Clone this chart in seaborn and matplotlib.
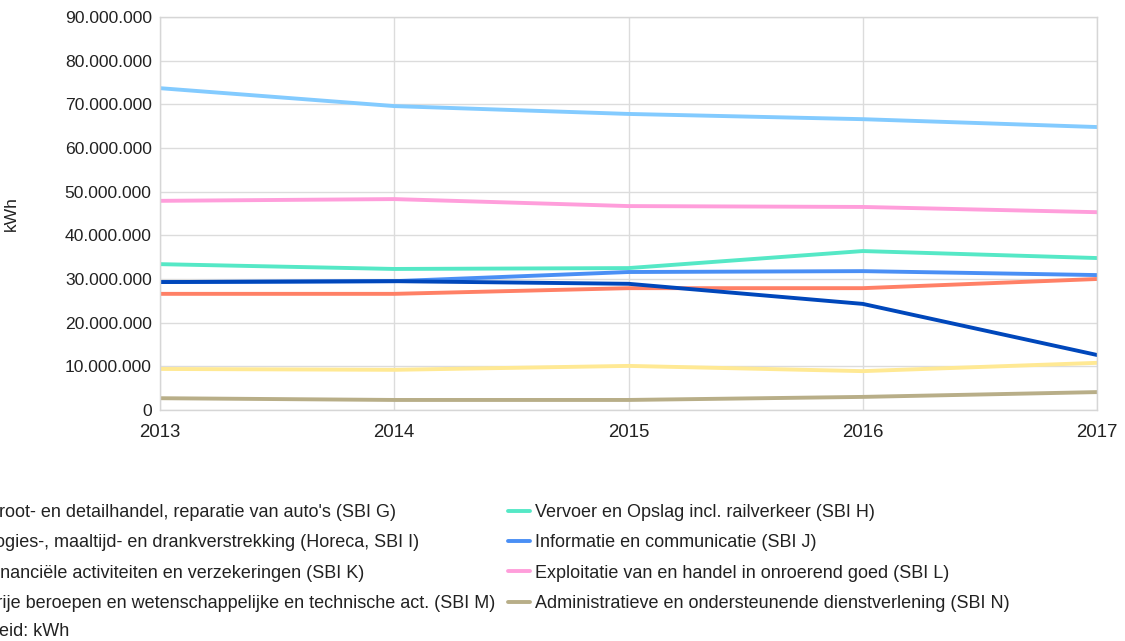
import pandas as pd
import matplotlib
matplotlib.use("Agg")
import matplotlib.pyplot as plt
import seaborn as sns

years = [2013, 2014, 2015, 2016, 2017]

sectors = [
    "Groot- en detailhandel, reparatie van auto's (SBI G)",
    "Logies-, maaltijd- en drankverstrekking (Horeca, SBI I)",
    "Financiële activiteiten en verzekeringen (SBI K)",
    "Vrije beroepen en wetenschappelijke en technische act. (SBI M)",
    "Vervoer en Opslag incl. railverkeer (SBI H)",
    "Informatie en communicatie (SBI J)",
    "Exploitatie van en handel in onroerend goed (SBI L)",
    "Administratieve en ondersteunende dienstverlening (SBI N)",
]

# kWh per year, same order as sectors
values = [
    [26.6e6, 26.6e6, 27.9e6, 27.9e6, 30.0e6],
    [9.4e6, 9.2e6, 10.1e6, 8.9e6, 10.8e6],
    [29.3e6, 29.5e6, 28.9e6, 24.3e6, 12.6e6],
    [73.7e6, 69.6e6, 67.8e6, 66.6e6, 64.8e6],
    [33.4e6, 32.3e6, 32.5e6, 36.4e6, 34.8e6],
    [29.3e6, 29.5e6, 31.6e6, 31.8e6, 30.9e6],
    [47.9e6, 48.3e6, 46.7e6, 46.5e6, 45.3e6],
    [2.7e6, 2.3e6, 2.3e6, 3.0e6, 4.1e6],
]

colors = ["#FF8066", "#FFE994", "#0047BB", "#83CBFF",
          "#55E8C6", "#4A8FF5", "#FF9EDB", "#B8AE88"]

# draw order (later = on top)
draw_order = [3, 6, 4, 0, 1, 7, 5, 2]

rows = []
for s, vals in zip(sectors, values):
    for y, v in zip(years, vals):
        rows.append({"Jaar": y, "kWh": v, "Sector": s})
df = pd.DataFrame(rows)

sns.set_theme(style="whitegrid")
plt.rcParams["font.family"] = ["Liberation Sans", "DejaVu Sans"]

fig = plt.figure(figsize=(11.25, 6.41), dpi=100)
ax = fig.add_axes([160 / 1125, 1 - 410 / 641, 937 / 1125, 393 / 641])

sns.lineplot(data=df, x="Jaar", y="kWh", hue="Sector",
             hue_order=[sectors[i] for i in draw_order],
             palette=dict(zip(sectors, colors)),
             linewidth=2.8, ax=ax, legend=True)

handles, labels = ax.get_legend_handles_labels()
ax.get_legend().remove()
hmap = dict(zip(labels, handles))

ax.set_xlim(2013, 2017)
ax.set_ylim(0, 90e6)
ax.set_xticks(years)
ax.set_xticklabels([str(y) for y in years])
ax.set_yticks([i * 10e6 for i in range(10)])
ax.set_yticklabels([f"{int(i * 10e6):,}".replace(",", ".") for i in range(10)])
ax.tick_params(axis="y", labelsize=12.6, colors="#222222", length=0, pad=6)
ax.tick_params(axis="x", labelsize=13.4, colors="#222222", length=0, pad=10)
ax.grid(True, color="#dcdcdc", linewidth=1)
for sp in ax.spines.values():
    sp.set_color("#d6d6d6")
    sp.set_linewidth(1)
ax.set_xlabel("")
ax.set_ylabel("kWh", fontsize=12.6, color="#222222")
ax.yaxis.set_label_coords(-0.151, 0.5)

leg_kw = dict(frameon=False, fontsize=13, handlelength=1.22, handletextpad=0.3,
              labelspacing=0.74, borderpad=0, borderaxespad=0, loc="upper left")
left = [sectors[i] for i in range(4)]
right = [sectors[i] for i in range(4, 8)]
leg1 = fig.legend([hmap[s] for s in left], left,
                  bbox_to_anchor=(-42 / 1125, 1 - 504 / 641), **leg_kw)
leg2 = fig.legend([hmap[s] for s in right], right,
                  bbox_to_anchor=(508 / 1125, 1 - 504 / 641), **leg_kw)
for lg in (leg1, leg2):
    for t in lg.get_texts():
        t.set_color("#222222")

fig.text(-43 / 1125, 1 - 632 / 641, "Eenheid: kWh", fontsize=13,
         color="#222222", va="center", ha="left")

fig.savefig("out.png", dpi=100)
